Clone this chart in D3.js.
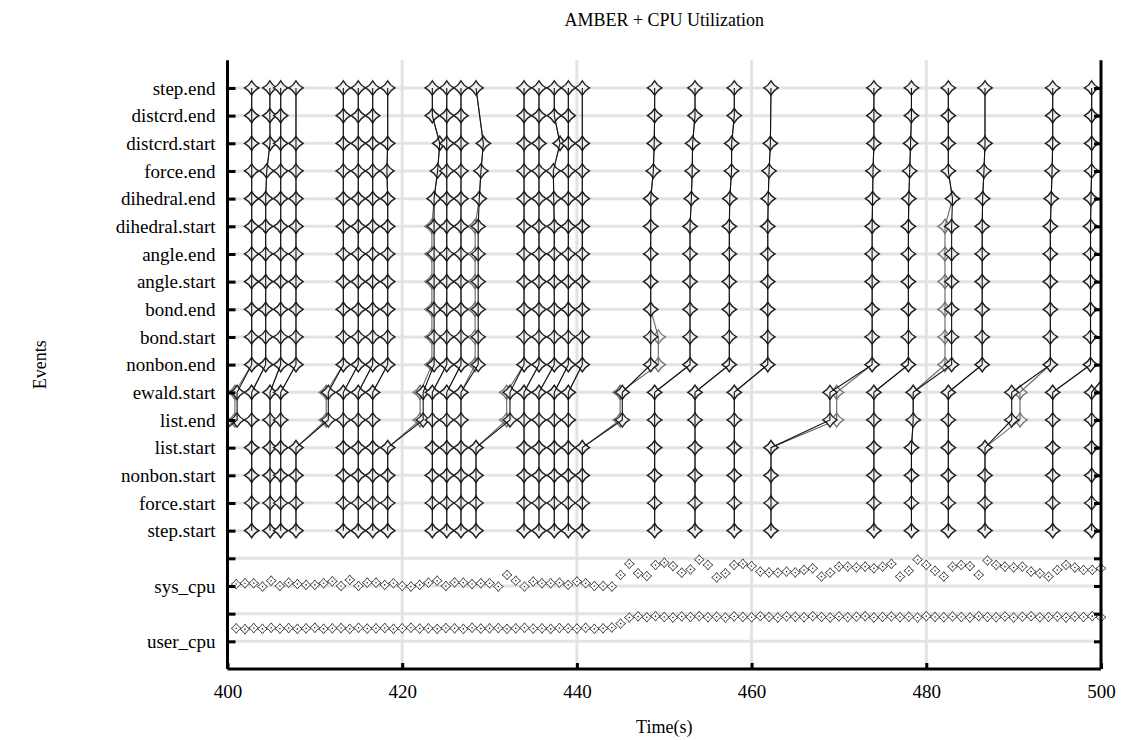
<!DOCTYPE html>
<html lang="en">
<head>
<meta charset="UTF-8" />
<title>AMBER + CPU Utilization</title>
<script src="https://d3js.org/d3.v7.min.js"></script>
<style>
  body { margin: 0; background: #fff; }
  text { font-family: "Liberation Serif", "Times New Roman", serif; }
</style>
</head>
<body>
<svg id="chart" width="1123" height="740"></svg>
<script>
  // y rows: user_cpu = 0, sys_cpu = 2, events from 4 upward
  const eventNames = ["step.start", "force.start", "nonbon.start", "list.start", "list.end",
    "ewald.start", "nonbon.end", "bond.start", "bond.end", "angle.start", "angle.end",
    "dihedral.start", "dihedral.end", "force.end", "distcrd.start", "distcrd.end", "step.end"];
  const cpuNames = ["user_cpu", "sys_cpu"];
  const timeTicks = [400, 420, 440, 460, 480, 500];

  // one entry per MD step (rank 0), times in seconds
  const stepStart    = [397.4, 402.77, 404.87, 406.09, 407.84, 413.26, 414.97, 416.62, 418.34, 423.45, 425.1, 426.73, 428.45, 433.95, 435.66, 437.41, 439.02, 440.62, 448.9, 453.52, 458.02, 462.22, 474.0, 478.3, 482.52, 486.72, 494.47, 498.93];
  const listEnd      = [401.1, 402.77, 404.87, 406.09, 411.54, 413.26, 414.97, 416.62, 422.4, 423.45, 425.1, 426.73, 432.34, 433.95, 435.66, 437.41, 439.02, 445.2, 448.9, 453.52, 458.02, 468.97, 474.0, 478.5, 482.52, 489.78, 494.47, 498.93];
  const nonbonEnd    = [402.77, 404.37, 406.09, 407.84, 413.26, 414.97, 416.62, 418.34, 423.65, 425.1, 426.73, 428.7, 433.95, 435.66, 437.41, 439.02, 440.62, 448.45, 452.95, 457.45, 461.85, 473.8, 477.95, 482.9, 486.4, 494.2, 498.8, 501.5];
  const dihedralEnd  = [402.77, 404.37, 406.09, 407.84, 413.26, 414.97, 416.62, 418.34, 423.65, 425.1, 426.73, 428.82, 433.95, 435.66, 437.35, 439.02, 440.62, 448.45, 453.1, 457.5, 461.9, 473.85, 478.0, 483.0, 486.45, 494.3, 498.85, 501.5];
  const forceEnd     = [402.77, 404.49, 406.09, 407.84, 413.26, 414.97, 416.62, 418.25, 424.05, 425.1, 426.73, 429.02, 433.95, 435.66, 437.3, 439.02, 440.62, 448.75, 453.2, 457.7, 462.0, 473.9, 478.1, 482.52, 486.6, 494.4, 498.93, 501.5];
  const distcrdStart = [402.77, 404.87, 406.09, 407.84, 413.26, 414.97, 416.62, 418.34, 424.3, 425.1, 426.73, 429.29, 433.95, 435.66, 438.07, 439.02, 440.62, 448.85, 453.25, 457.72, 462.15, 474.0, 478.2, 482.52, 486.72, 494.47, 498.93, 501.5];
  const stepEnd      = [402.77, 404.85, 406.09, 407.84, 413.26, 414.97, 416.62, 418.34, 423.45, 425.1, 426.73, 428.45, 433.95, 435.66, 437.41, 439.02, 440.62, 448.9, 453.52, 458.02, 462.22, 474.0, 478.3, 482.52, 486.72, 494.47, 498.93, 501.5];
  const noDistcrdEnd = [3, 7, 11, 16, 20, 24];

  // rank 1 follows rank 0 except here: [step, first event, last event, time]
  const rank1Diff = [
    [0, "list.end", "ewald.start", 400.85],
    [4, "list.end", "ewald.start", 411.3],
    [8, "list.end", "ewald.start", 422.05],
    [8, "nonbon.end", "dihedral.start", 423.4],
    [11, "nonbon.end", "dihedral.start", 428.35],
    [12, "list.end", "ewald.start", 431.96],
    [17, "list.end", "ewald.start", 444.95],
    [17, "nonbon.end", "bond.start", 449.32],
    [21, "list.end", "ewald.start", 469.74],
    [23, "nonbon.end", "dihedral.start", 482.14],
    [25, "list.end", "ewald.start", 490.73]
  ];

  const cpuTime = d3.range(401, 501);
  const sysCpu = [
    2.07, 2.10, 2.10, 1.98, 2.19, 2.00, 2.12, 2.07, 2.04, 2.04,
    2.10, 2.17, 2.00, 2.22, 2.00, 2.12, 2.12, 2.04, 2.10, 2.00,
    1.98, 2.04, 2.12, 2.19, 2.00, 2.13, 2.12, 2.07, 2.10, 2.10,
    1.98, 2.40, 2.19, 1.98, 2.16, 2.10, 2.10, 2.12, 2.04, 2.16,
    2.10, 2.00, 2.00, 1.98, 2.40, 2.80, 2.46, 2.36, 2.76, 2.84,
    2.72, 2.48, 2.60, 2.95, 2.76, 2.31, 2.46, 2.76, 2.80, 2.72,
    2.52, 2.49, 2.48, 2.52, 2.49, 2.58, 2.64, 2.34, 2.48, 2.70,
    2.70, 2.67, 2.70, 2.64, 2.70, 2.80, 2.34, 2.55, 2.95, 2.76,
    2.55, 2.34, 2.70, 2.76, 2.72, 2.40, 2.92, 2.76, 2.70, 2.67,
    2.70, 2.52, 2.46, 2.34, 2.58, 2.76, 2.67, 2.58, 2.58, 2.64];
  const userCpu = [
    0.47, 0.44, 0.48, 0.45, 0.49, 0.46, 0.48, 0.45, 0.47, 0.49,
    0.45, 0.47, 0.48, 0.45, 0.49, 0.46, 0.47, 0.48, 0.45, 0.47,
    0.49, 0.46, 0.47, 0.45, 0.48, 0.47, 0.45, 0.49, 0.46, 0.47,
    0.48, 0.45, 0.47, 0.49, 0.46, 0.47, 0.45, 0.48, 0.47, 0.46,
    0.49, 0.45, 0.47, 0.50, 0.64, 0.86, 0.90, 0.87, 0.91, 0.88,
    0.86, 0.90, 0.88, 0.91, 0.87, 0.89, 0.86, 0.90, 0.88, 0.87,
    0.91, 0.88, 0.86, 0.90, 0.89, 0.87, 0.91, 0.88, 0.86, 0.90,
    0.87, 0.89, 0.91, 0.86, 0.88, 0.90, 0.87, 0.89, 0.86, 0.91,
    0.88, 0.87, 0.90, 0.88, 0.86, 0.91, 0.88, 0.87, 0.90, 0.86,
    0.89, 0.91, 0.87, 0.88, 0.90, 0.86, 0.89, 0.88, 0.91, 0.87];

  const svg = d3.select("#chart");
  const plotLeft = 227.5, plotRight = 1101, plotTop = 60.3, plotBottom = 669;

  const x = d3.scaleLinear().domain([400, 500]).range([plotLeft, plotRight]);
  const y = d3.scaleLinear().domain([-1, 21]).range([plotBottom, plotTop]);
  const rowOf = name => eventNames.indexOf(name) + 4;

  const rowLabels = {};
  cpuNames.forEach((n, i) => rowLabels[i * 2] = n);
  eventNames.forEach((n, i) => rowLabels[i + 4] = n);

  // grid
  svg.append("g").selectAll("line").data(d3.range(0, 21)).join("line")
    .attr("x1", plotLeft).attr("x2", plotRight)
    .attr("y1", d => y(d)).attr("y2", d => y(d))
    .attr("stroke", "#e3e3e3").attr("stroke-width", 3);
  svg.append("g").selectAll("line").data(timeTicks.slice(1, -1)).join("line")
    .attr("x1", d => x(d)).attr("x2", d => x(d))
    .attr("y1", plotTop).attr("y2", plotBottom)
    .attr("stroke", "#e3e3e3").attr("stroke-width", 3);

  // four-point star marker
  function star(r, c) {
    return `M0,${-r}Q${c},${-c} ${r},0Q${c},${c} 0,${r}Q${-c},${c} ${-r},0Q${-c},${-c} 0,${-r}Z`;
  }

  svg.append("clipPath").attr("id", "plotClip")
    .append("rect").attr("x", plotLeft).attr("y", plotTop - 10)
    .attr("width", plotRight - plotLeft).attr("height", plotBottom - plotTop + 10);

  function stepPoints(i) {
    const t = [stepStart[i], stepStart[i], stepStart[i], stepStart[i],
      listEnd[i], listEnd[i],
      nonbonEnd[i], nonbonEnd[i], nonbonEnd[i], nonbonEnd[i], nonbonEnd[i], nonbonEnd[i],
      dihedralEnd[i], forceEnd[i], distcrdStart[i], stepEnd[i], stepEnd[i]];
    return t.map((v, k) => ({ t: v, row: k + 4 }))
      .filter((p, k) => !(k === 15 && noDistcrdEnd.includes(i)));
  }

  const rank0 = stepStart.map((_, i) => stepPoints(i));
  const rank1 = stepStart.map((_, i) => {
    const pts = stepPoints(i).map(p => ({ ...p }));
    rank1Diff.filter(d => d[0] === i).forEach(d => {
      pts.forEach(p => {
        if (p.row >= rowOf(d[1]) && p.row <= rowOf(d[2])) p.t = d[3];
      });
    });
    return pts;
  });

  const plot = svg.append("g").attr("clip-path", "url(#plotClip)");
  const line = d3.line().x(p => x(p.t)).y(p => y(p.row));

  function drawRank(steps, stroke, markerStroke) {
    const g = plot.append("g");
    g.selectAll("path.mk").data(steps.flat()).join("path")
      .attr("class", "mk")
      .attr("d", star(7, 2.5))
      .attr("transform", p => `translate(${x(p.t)},${y(p.row)})`)
      .attr("fill", "#f0f0f0")
      .attr("stroke", markerStroke)
      .attr("stroke-width", 1.4);
    g.selectAll("path.ln").data(steps).join("path")
      .attr("class", "ln")
      .attr("d", line)
      .attr("fill", "none")
      .attr("stroke", stroke)
      .attr("stroke-width", 1.1);
  }
  drawRank(rank1, "#666", "#777");
  drawRank(rank0, "#111", "#222");

  // cpu rows
  const cpu = cpuTime.map((t, i) => ({ t, v: sysCpu[i] }))
    .concat(cpuTime.map((t, i) => ({ t, v: userCpu[i] })));
  const cg = svg.append("g");
  cg.selectAll("path").data(cpu).join("path")
    .attr("d", star(5, 1.7))
    .attr("transform", p => `translate(${x(p.t)},${y(p.v)})`)
    .attr("fill", "#fff")
    .attr("stroke", "#444")
    .attr("stroke-width", 1);
  cg.selectAll("circle").data(cpu).join("circle")
    .attr("cx", p => x(p.t)).attr("cy", p => y(p.v))
    .attr("r", 0.8).attr("fill", "#222");

  // axes
  const yTicks = d3.range(0, 21);
  const gl = svg.append("g").attr("transform", `translate(${plotLeft},0)`)
    .call(d3.axisLeft(y).tickValues(yTicks).tickFormat(d => rowLabels[d] || "")
      .tickSizeInner(-8).tickSizeOuter(0).tickPadding(12));
  const gr = svg.append("g").attr("transform", `translate(${plotRight},0)`)
    .call(d3.axisRight(y).tickValues(yTicks).tickFormat("")
      .tickSizeInner(-7).tickSizeOuter(0));
  const gb = svg.append("g").attr("transform", `translate(0,${plotBottom})`)
    .call(d3.axisBottom(x).tickValues(timeTicks).tickFormat(d3.format("d"))
      .tickSizeInner(-6).tickSizeOuter(0).tickPadding(16));

  [gl, gr, gb].forEach(g => {
    g.select(".domain").attr("stroke", "#000").attr("stroke-width", 3);
    g.selectAll(".tick line").attr("stroke", "#000").attr("stroke-width", 3);
    g.selectAll(".tick text").attr("font-size", 19).attr("fill", "#000")
      .attr("font-family", "Liberation Serif, Times New Roman, serif");
  });
  gl.select(".domain").attr("d", `M0,${plotTop}V${plotBottom}`);
  gr.select(".domain").attr("d", `M0,${plotTop}V${plotBottom}`);
  gb.select(".domain").attr("d", `M${plotLeft},0H${plotRight}`);

  svg.append("text").attr("x", (plotLeft + plotRight) / 2).attr("y", 26)
    .attr("text-anchor", "middle").attr("font-size", 18)
    .text("AMBER + CPU Utilization");
  svg.append("text").attr("x", (plotLeft + plotRight) / 2).attr("y", 733)
    .attr("text-anchor", "middle").attr("font-size", 18)
    .text("Time(s)");
  svg.append("text")
    .attr("transform", `translate(46,${(plotTop + plotBottom) / 2}) rotate(-90)`)
    .attr("text-anchor", "middle").attr("font-size", 18)
    .text("Events");
</script>
</body>
</html>
